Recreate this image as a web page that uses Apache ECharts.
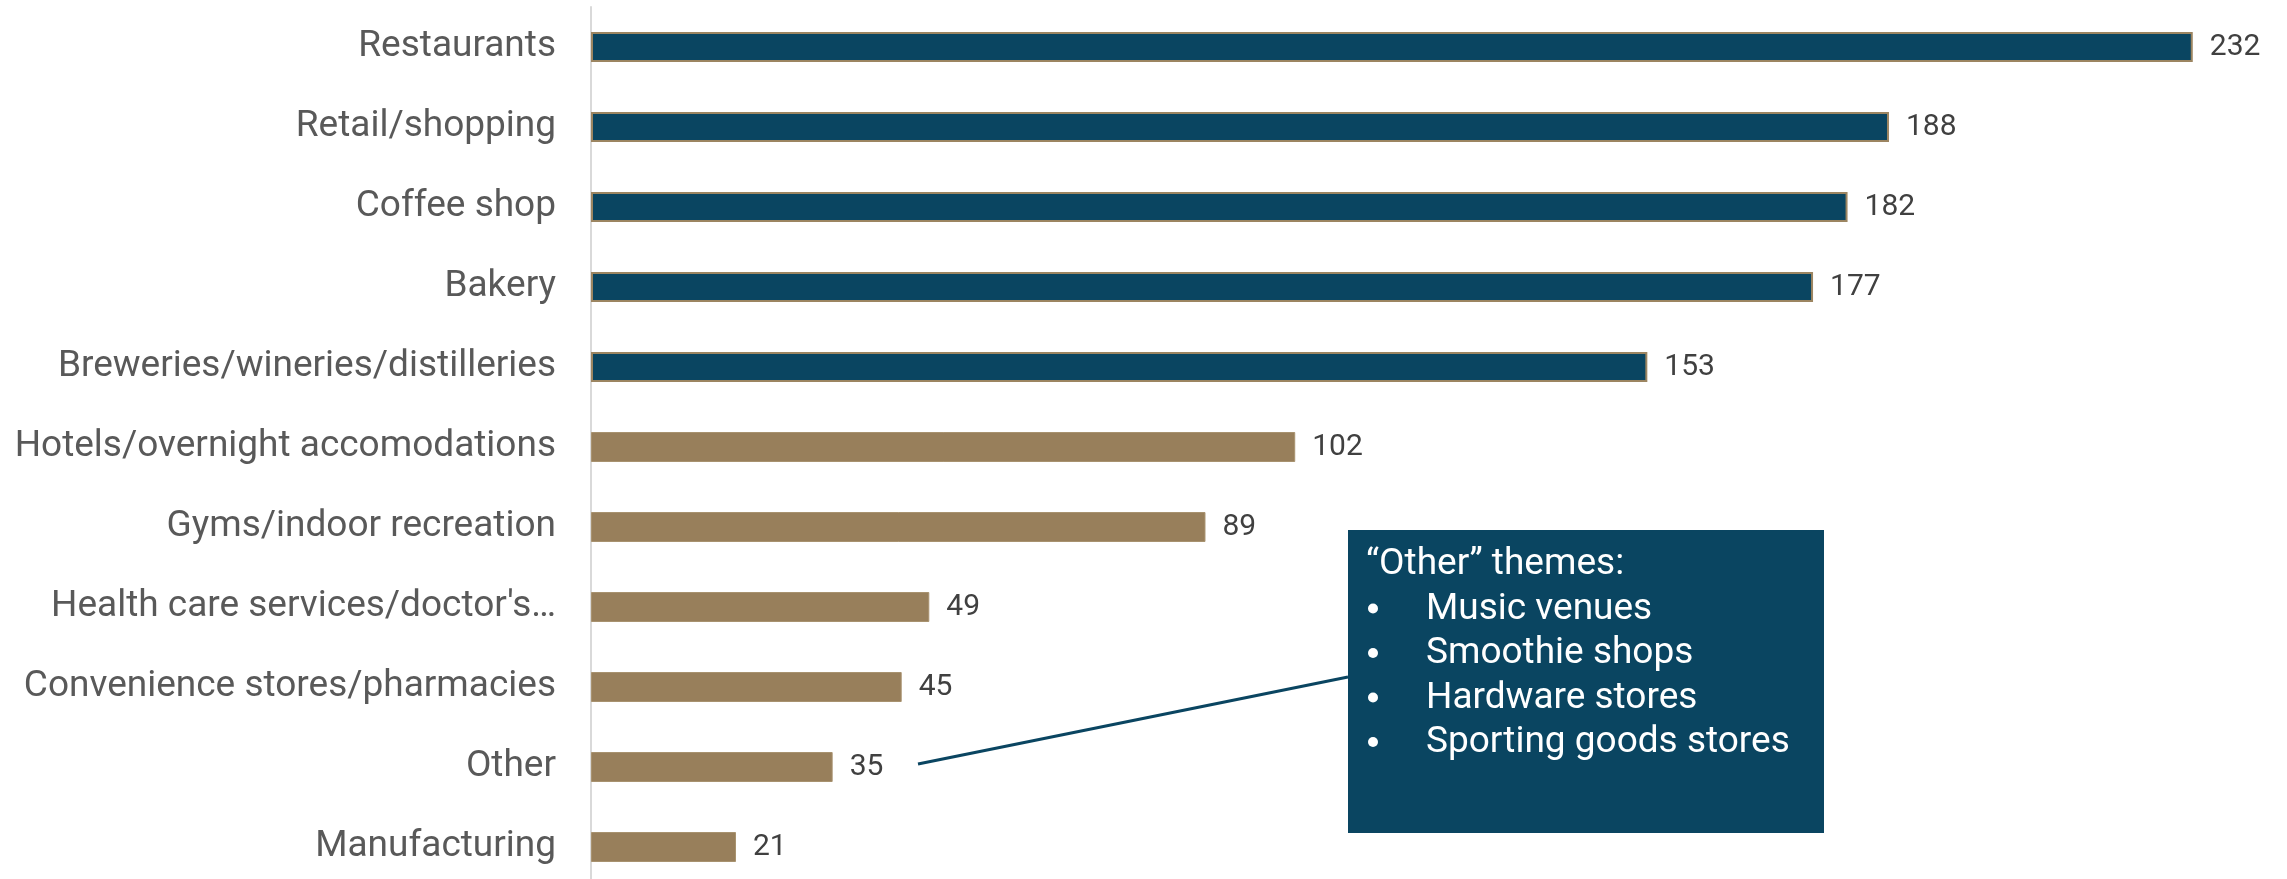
<!DOCTYPE html>
<html>
<head>
<meta charset="utf-8">
<script src="https://cdn.jsdelivr.net/npm/echarts@6/dist/echarts.min.js"></script>
<style>
html,body{margin:0;padding:0;background:#fff;}
#chart{width:2287px;height:879px;}
</style>
</head>
<body>
<div id="chart"></div>
<script>
const categories = [
  "Restaurants",
  "Retail/shopping",
  "Coffee shop",
  "Bakery",
  "Breweries/wineries/distilleries",
  "Hotels/overnight accomodations",
  "Gyms/indoor recreation",
  "Health care services/doctor's…",
  "Convenience stores/pharmacies",
  "Other",
  "Manufacturing"
];
const values = [232, 188, 182, 177, 153, 102, 89, 49, 45, 35, 21];
const topGroupCount = 5;
const noteTitle = "\u201COther\u201D themes:";
const noteItems = ["Music venues", "Smoothie shops", "Hardware stores", "Sporting goods stores"];

const NAVY = "#0A4561";
const GOLD = "#987F5B";
const FONT = "Roboto";

const chart = echarts.init(document.getElementById('chart'));

const barData = values.map((v, i) => ({
  value: v,
  itemStyle: i < topGroupCount
    ? { color: NAVY, borderColor: '#9C8561', borderWidth: 2 }
    : { color: GOLD, borderColor: '#A8926F', borderWidth: 1 }
}));

const lineGap = 44.5;
const firstLineY = 35;
const noteChildren = [{
  type: 'text', x: 18, y: firstLineY,
  style: { text: noteTitle, fill: '#fff', font: '37px ' + FONT, verticalAlign: 'middle' }
}];
noteItems.forEach((t, i) => {
  const y = firstLineY + (i + 1) * lineGap;
  noteChildren.push({
    type: 'circle', shape: { cx: 25, cy: y - 1, r: 5 },
    style: { fill: '#fff' }
  });
  noteChildren.push({
    type: 'text', x: 78, y: y,
    style: { text: t, fill: '#fff', font: '37px ' + FONT, verticalAlign: 'middle' }
  });
});

chart.setOption({
  animation: false,
  backgroundColor: '#fff',
  grid: { left: 591, top: 7, height: 880, right: 39, containLabel: false, outerBoundsMode: 'none' },
  xAxis: {
    type: 'value', min: 0, max: 240,
    show: false
  },
  yAxis: {
    type: 'category', data: categories, inverse: true,
    axisLine: { show: true, lineStyle: { color: '#D9D9D9', width: 2 } },
    axisTick: { show: false },
    axisLabel: { color: '#595959', fontSize: 37, fontFamily: FONT, margin: 35 }
  },
  series: [{
    type: 'bar',
    data: barData,
    barWidth: 30,
    label: {
      show: true, position: 'right', distance: 17,
      color: '#404040', fontSize: 30, fontFamily: FONT
    }
  }],
  graphic: [
    {
      type: 'line',
      shape: { x1: 918, y1: 764, x2: 1348, y2: 677 },
      style: { stroke: NAVY, lineWidth: 3 }
    },
    {
      type: 'group', x: 1348, y: 530,
      children: [{
        type: 'rect', shape: { x: 0, y: 0, width: 476, height: 303 },
        style: { fill: NAVY }
      }].concat(noteChildren)
    }
  ]
});
</script>
</body>
</html>
